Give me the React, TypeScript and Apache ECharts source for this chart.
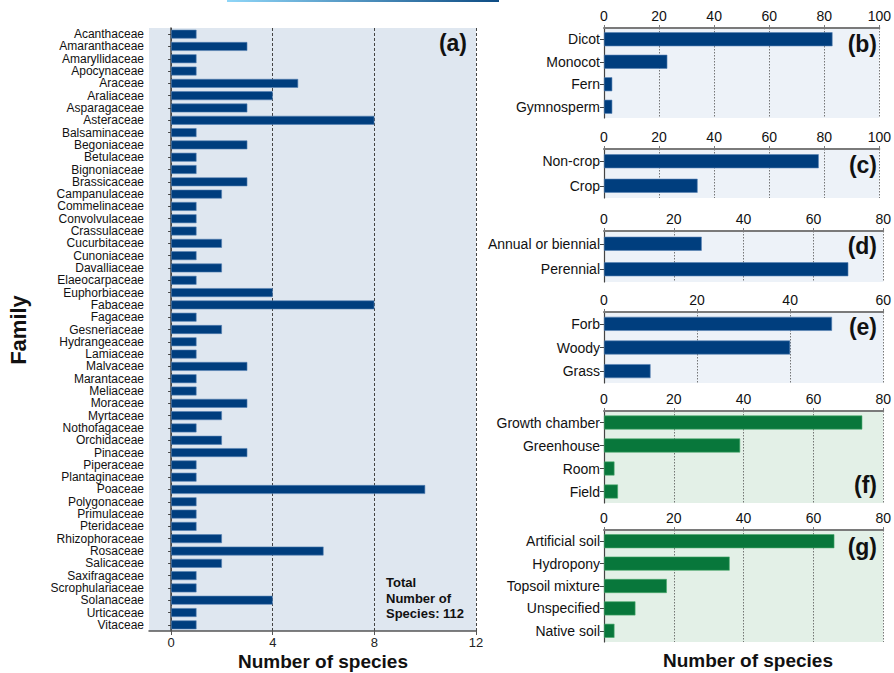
import React, { useEffect, useRef } from "react";
import * as echarts from "echarts";

const families = [
  "Acanthaceae", "Amaranthaceae", "Amaryllidaceae", "Apocynaceae", "Araceae", "Araliaceae",
  "Asparagaceae", "Asteraceae", "Balsaminaceae", "Begoniaceae", "Betulaceae", "Bignoniaceae",
  "Brassicaceae", "Campanulaceae", "Commelinaceae", "Convolvulaceae", "Crassulaceae",
  "Cucurbitaceae", "Cunoniaceae", "Davalliaceae", "Elaeocarpaceae", "Euphorbiaceae", "Fabaceae",
  "Fagaceae", "Gesneriaceae", "Hydrangeaceae", "Lamiaceae", "Malvaceae", "Marantaceae",
  "Meliaceae", "Moraceae", "Myrtaceae", "Nothofagaceae", "Orchidaceae", "Pinaceae", "Piperaceae",
  "Plantaginaceae", "Poaceae", "Polygonaceae", "Primulaceae", "Pteridaceae", "Rhizophoraceae",
  "Rosaceae", "Salicaceae", "Saxifragaceae", "Scrophulariaceae", "Solanaceae", "Urticaceae",
  "Vitaceae",
];
const familyCounts = [
  1, 3, 1, 1, 5, 4, 3, 8, 1, 3, 1, 1, 3, 2, 1, 1, 1, 2, 1, 2, 1, 4, 8, 1, 2, 1, 1, 3, 1, 1, 3, 2,
  1, 2, 3, 1, 1, 10, 1, 1, 1, 2, 6, 2, 1, 1, 4, 1, 1,
];
const familyTicks = [0, 4, 8, 12];

const cladeCats = ["Dicot", "Monocot", "Fern", "Gymnosperm"];
const cladeVals = [83, 23, 3, 3];
const cropCats = ["Non-crop", "Crop"];
const cropVals = [78, 34];
const lifeCats = ["Annual or biennial", "Perennial"];
const lifeVals = [28, 70];
const formCats = ["Forb", "Woody", "Grass"];
const formVals = [49, 40, 10];
const settingCats = ["Growth chamber", "Greenhouse", "Room", "Field"];
const settingVals = [74, 39, 3, 4];
const mediumCats = ["Artificial soil", "Hydropony", "Topsoil mixture", "Unspecified", "Native soil"];
const mediumVals = [66, 36, 18, 9, 3];

const FONT = "'Liberation Sans', Arial, sans-serif";
const BLUE = "#003e7e";
const GREEN = "#08773b";

export default function App() {
  const ref = useRef<HTMLDivElement>(null);
  useEffect(() => {
    if (!ref.current) return;
    const chart = echarts.init(ref.current, null, { renderer: "svg" });

    const panels = [
      { label: "(b)", cats: cladeCats, vals: cladeVals, max: 100, top: 28, h: 90, color: BLUE, bg: "#edf2f8" },
      { label: "(c)", cats: cropCats, vals: cropVals, max: 100, top: 149, h: 49, color: BLUE, bg: "#edf2f8" },
      { label: "(d)", cats: lifeCats, vals: lifeVals, max: 80, top: 231, h: 51, color: BLUE, bg: "#edf2f8" },
      { label: "(e)", cats: formCats, vals: formVals, max: 60, top: 312, h: 71, color: BLUE, bg: "#edf2f8" },
      { label: "(f)", cats: settingCats, vals: settingVals, max: 80, top: 411, h: 92, color: GREEN, bg: "#e3f0e7" },
      { label: "(g)", cats: mediumCats, vals: mediumVals, max: 80, top: 530, h: 112, color: GREEN, bg: "#e3f0e7" },
    ];
    const labelY = [44, 165, 246, 327, 485, 547];

    const grids: any[] = [
      { left: 149, top: 28, width: 327, height: 603, show: true, backgroundColor: "#dfe7f0", borderWidth: 0 },
    ];
    const xAxes: any[] = [
      {
        type: "value", gridIndex: 0, min: -0.87, max: 12, position: "bottom",
        axisLine: { show: true, lineStyle: { color: "#555", width: 1.5 } },
        axisTick: { show: true, customValues: familyTicks, length: 4, lineStyle: { color: "#555" } },
        axisLabel: { customValues: familyTicks, color: "#222", fontSize: 13, fontFamily: FONT, margin: 5 },
        splitLine: { show: true, lineStyle: { color: "#444", type: [3, 2], width: 1 } },
      },
    ];
    const yAxes: any[] = [
      {
        type: "category", gridIndex: 0, data: families, inverse: true,
        axisLine: { show: true, lineStyle: { color: "#444", width: 1.5 } },
        axisTick: { show: true, alignWithLabel: true, length: 3, lineStyle: { color: "#444" } },
        axisLabel: { color: "#111", fontSize: 12, fontFamily: FONT, margin: 5, interval: 0 },
      },
    ];
    const series: any[] = [
      {
        type: "bar", xAxisIndex: 0, yAxisIndex: 0, data: familyCounts, barWidth: "72%",
        itemStyle: { color: BLUE, borderColor: "#5682b4", borderWidth: 0.6 },
      },
    ];

    panels.forEach((p, i) => {
      const gi = i + 1;
      grids.push({ left: 604, top: p.top, width: 280, height: p.h, show: true, backgroundColor: p.bg, borderWidth: 0 });
      xAxes.push({
        type: "value", gridIndex: gi, min: 0, max: p.max, interval: 20, position: "top",
        axisLine: { show: true, lineStyle: { color: "#7a7a7a", width: 2 } },
        axisTick: { show: true, length: 3, lineStyle: { color: "#7a7a7a" } },
        axisLabel: { color: "#111", fontSize: 14, fontFamily: FONT, margin: 5 },
        splitLine: { show: true, lineStyle: { color: "#555", type: [1.5, 1.5], width: 0.8 } },
      });
      yAxes.push({
        type: "category", gridIndex: gi, data: p.cats, inverse: true,
        axisLine: { show: true, lineStyle: { color: "#444", width: 1.2 } },
        axisTick: { show: true, alignWithLabel: true, length: 4, lineStyle: { color: "#444" } },
        axisLabel: { color: "#111", fontSize: 14, fontFamily: FONT, margin: 4, interval: 0 },
      });
      series.push({
        type: "bar", xAxisIndex: gi, yAxisIndex: gi, data: p.vals, barWidth: 14,
        itemStyle: {
          color: p.color,
          borderColor: p.color === BLUE ? "#5682b4" : "#4aa96c",
          borderWidth: 0.6,
        },
      });
    });

    const graphics: any[] = [
      {
        type: "rect", shape: { x: 227, y: 0, width: 272, height: 2 },
        style: {
          fill: new echarts.graphic.LinearGradient(0, 0, 1, 0, [
            { offset: 0, color: "#8fd6f8" },
            { offset: 1, color: "#0e4c84" },
          ]),
        },
        silent: true,
      },
      {
        type: "text", x: 467, y: 43,
        style: { text: "(a)", font: `bold 23px ${FONT}`, fill: "#111", align: "right", verticalAlign: "middle" },
      },
      {
        type: "text", x: 386, y: 575,
        style: {
          text: "Total\nNumber of\nSpecies: 112", font: `bold 13px ${FONT}`, fill: "#111",
          align: "left", verticalAlign: "top", lineHeight: 15.5,
        },
      },
      {
        type: "text", x: 323, y: 661,
        style: { text: "Number of species", font: `bold 19px ${FONT}`, fill: "#111", align: "center", verticalAlign: "middle" },
      },
      {
        type: "text", x: 748, y: 660,
        style: { text: "Number of species", font: `bold 19px ${FONT}`, fill: "#111", align: "center", verticalAlign: "middle" },
      },
      {
        type: "text", x: 18, y: 330, rotation: Math.PI / 2,
        style: { text: "Family", font: `bold 22px ${FONT}`, fill: "#111", align: "center", verticalAlign: "middle" },
      },
    ];
    panels.forEach((p, i) => {
      graphics.push({
        type: "text", x: 877, y: labelY[i],
        style: { text: p.label, font: `bold 23px ${FONT}`, fill: "#111", align: "right", verticalAlign: "middle" },
      });
    });

    chart.setOption({
      animation: false,
      backgroundColor: "#ffffff",
      grid: grids,
      xAxis: xAxes,
      yAxis: yAxes,
      series,
      graphic: graphics,
    });
    return () => chart.dispose();
  }, []);
  return (
    <div
      ref={ref}
      style={{ position: "fixed", left: 0, top: 0, width: 894, height: 673 }}
    />
  );
}
